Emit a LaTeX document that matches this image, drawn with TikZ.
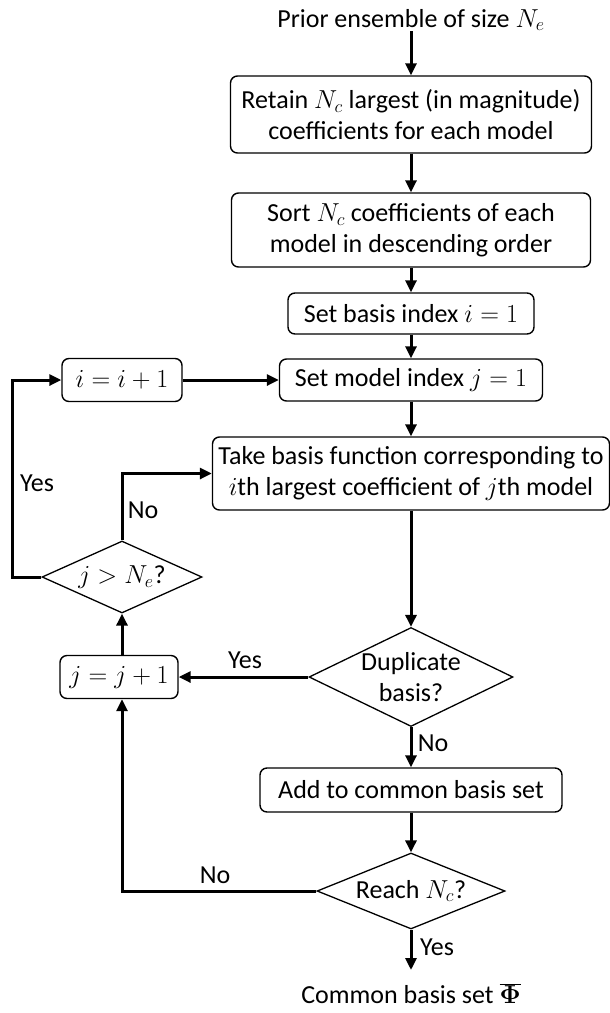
\RequirePackage{fix-cm}
\documentclass[tikz,border=0pt]{standalone}
\usepackage[no-math]{fontspec}
\setmainfont{Carlito}
\usetikzlibrary{arrows.meta,shapes.geometric}

\begin{document}
\begin{tikzpicture}[x=1pt,y=-1pt,
  every node/.style={font=\fontsize{26}{31}\selectfont},
  procbox/.style={draw, line width=1.4pt, rounded corners=7pt, align=center, inner sep=0pt},
  decision/.style={draw, diamond, line width=1.3pt, align=center, inner sep=-40pt},
  flow/.style={line width=3pt, -{Triangle[length=12pt,width=11pt]}},
  tag/.style={anchor=base, inner sep=0pt}]

\useasboundingbox (0,0) rectangle (610,1013);

% main column
\node[tag] (prior) at (411,27) {Prior ensemble of size $N_e$};
\node[procbox, minimum width=361pt, minimum height=77pt] (retain) at (411,114.5)
  {Retain $N_c$ largest (in magnitude)\\coefficients for each model};
\node[procbox, minimum width=359pt, minimum height=74pt] (sort) at (411,230)
  {Sort $N_c$ coefficients of each\\model in descending order};
\node[procbox, minimum width=246pt, minimum height=41pt] (seti) at (411,313.5)
  {Set basis index $i=1$};
\node[procbox, minimum width=263pt, minimum height=42pt] (setj) at (411,380)
  {Set model index $j=1$};
\node[procbox, minimum width=397pt, minimum height=73pt] (take) at (411,473.5)
  {Take basis function corresponding to\\$i$th largest coefficient of $j$th model};
\node[decision, minimum width=204pt, minimum height=99pt] (dup) at (411,677)
  {Duplicate\\basis?};
\node[procbox, minimum width=302pt, minimum height=44pt] (add) at (411,790)
  {Add to common basis set};
\node[decision, minimum width=188pt, minimum height=76pt] (reach) at (411,891)
  {Reach $N_c$?};
\coordinate (out) at (411,970);
\node[tag] (common) at (411,1003) {Common basis set $\overline{\mathbf{\Phi}}$};

% loop column
\node[procbox, minimum width=120pt, minimum height=43pt] (inci) at (122,380) {$i=i+1$};
\node[decision, minimum width=160pt, minimum height=72pt] (jgt) at (122,577) {$j>N_e$?};
\node[procbox, minimum width=118pt, minimum height=43pt] (incj) at (119,677) {$j=j+1$};
\coordinate (yesturn) at (12,577);

% connectors
\draw[flow] (prior.south) -- (retain.north);
\draw[flow] (retain.south) -- (sort.north);
\draw[flow] (sort.south) -- (seti.north);
\draw[flow] (seti.south) -- (setj.north);
\draw[flow] (setj.south) -- (take.north);
\draw[flow] (take.south) -- (dup.north);
\draw[flow] (dup.south) -- (add.north);
\draw[flow] (add.south) -- (reach.north);
\draw[flow] (reach.south) -- (out);
\draw[flow] (dup.west) -- (incj.east);
\draw[flow] (reach.west) -| (jgt.south |- incj.south);
\draw[flow] (jgt.south |- incj.north) -- (jgt.south);
\draw[flow] (jgt.north) |- (take.west);
\draw[flow] (jgt.west) -- (yesturn) |- (inci.west);
\draw[flow] (inci.east) -- (setj.west);

% branch labels
\node[tag] (yesloop) at (37,491) {Yes};
\node[tag] (nojgt) at (143,518) {No};
\node[tag] (yesdup) at (245,668) {Yes};
\node[tag] (nodup) at (433,751) {No};
\node[tag] (noreach) at (215,883) {No};
\node[tag] (yesreach) at (437,955) {Yes};
\end{tikzpicture}
\end{document}
